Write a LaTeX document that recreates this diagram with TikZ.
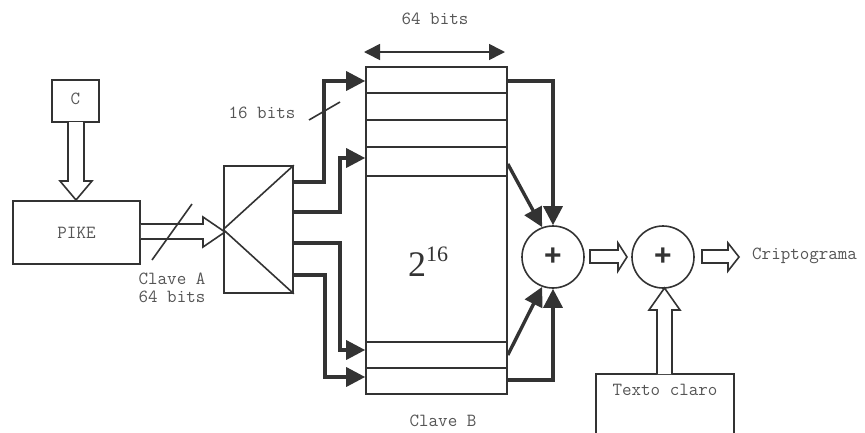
\documentclass[tikz,border=0pt]{standalone}
\usepackage{fontspec}
\setmainfont{Liberation Serif}
\newfontfamily\plusfont{Liberation Sans}
\usetikzlibrary{arrows.meta}
\definecolor{ink}{HTML}{333333}
\definecolor{txt}{HTML}{555555}
\tikzset{
  thin line/.style={draw=ink, line width=1.6pt},
  box/.style={thin line, rectangle, inner sep=0pt, fill=white},
  conn/.style={draw=ink, line width=3.4pt, -{Triangle[length=19pt,width=19pt]}},
  hollow/.style={draw=ink, line width=1.6pt, fill=white, line join=miter},
  lbl/.style={text=txt, font=\ttfamily\fontsize{18.5}{20}\selectfont, inner sep=0pt},
  sumnode/.style={thin line, circle, minimum size=62pt, inner sep=0pt, font=\plusfont\bfseries\fontsize{30}{30}\selectfont, text=ink}
}
\begin{document}
\begin{tikzpicture}[x=1pt,y=-1pt]
\clip (0,0) rectangle (865,432);
\fill[white] (0,0) rectangle (865,432);

% boxes
\node[box, minimum width=47pt, minimum height=42pt] (cbox) at (75.5,101) {};
\node[lbl] (ctext) at (75.5,99) {C};
\node[box, minimum width=127pt, minimum height=63pt] (pike) at (76.5,232.5) {};
\node[lbl] (piketext) at (76.5,232.5) {PIKE};
\node[box, minimum width=69pt, minimum height=127pt] (demux) at (258.5,229.5) {};
\draw[thin line] (demux.west) -- (demux.north east) (demux.west) -- (demux.south east);
\node[box, minimum width=141pt, minimum height=327pt] (mem) at (436.5,230.5) {};
\foreach \yy in {93,120,147,176,342,368} \draw[thin line] (366,\yy) -- (507,\yy);
\node[inner sep=0pt, text=ink] (pow) at (428,262) {\fontsize{36}{40}\selectfont 2\raisebox{0.42em}{\fontsize{22}{24}\selectfont 16}};
\node[sumnode] (sum1) at (553,257) {+};
\node[sumnode] (sum2) at (663,257) {+};
\node[box, minimum width=138pt, minimum height=110pt] (texto) at (665,429) {};
\node[lbl] (textotext) at (665,390) {Texto claro};

% labels
\node[lbl] (w64) at (435,19) {64 bits};
\node[lbl] (w16) at (262,113) {16 bits};
\node[lbl, align=center] (claveA) at (172,288) {Clave A\\[-2pt]64 bits};
\node[lbl] (claveB) at (443,421) {Clave B};
\node[lbl, anchor=west] (cripto) at (752,256) {Criptograma};

% width arrow
\draw[draw=ink, line width=1.6pt, {Triangle[length=16pt,width=16pt]}-{Triangle[length=16pt,width=16pt]}] (364,52) -- (505,52);

% hollow arrows
\draw[hollow] (68,122) -- (68,181) -- (60,181) -- (76,200) -- (92,181) -- (84,181) -- (84,122);
\draw[hollow] (pike.east |- 0,224) -- (203,224) -- (203,217) -- (225,232) -- (203,247) -- (203,239) -- (pike.east |- 0,239);
\draw[hollow] (590,250) -- (618,250) -- (618,243) -- (627,257) -- (618,271) -- (618,263) -- (590,263) -- cycle;
\draw[hollow] (702,250) -- (728,250) -- (728,243) -- (739,257) -- (728,271) -- (728,263) -- (702,263) -- cycle;
\draw[hollow] (657,374) -- (657,310) -- (649,310) -- (664.5,288) -- (680,310) -- (672,310) -- (672,374);

% slashes
\draw[thin line] (152,260) -- (192,204);
\draw[thin line] (309,120) -- (340,102);

% connectors left
\draw[conn] (demux.east |- 0,182) -| (324,81) -- (mem.west |- 0,81);
\draw[conn] (demux.east |- 0,212) -| (340,158) -- (mem.west |- 0,158);
\draw[conn] (demux.east |- 0,243) -| (340,350) -- (mem.west |- 0,350);
\draw[conn] (demux.east |- 0,275) -| (325,377) -- (mem.west |- 0,377);

% connectors right
\draw[conn] (mem.east |- 0,81) -| (sum1.north);
\draw[conn] (mem.east |- 0,164) -- (sum1.110);
\draw[conn] (mem.east |- 0,355) -- (sum1.250);
\draw[conn] (mem.east |- 0,380) -| (sum1.south);
\end{tikzpicture}
\end{document}
